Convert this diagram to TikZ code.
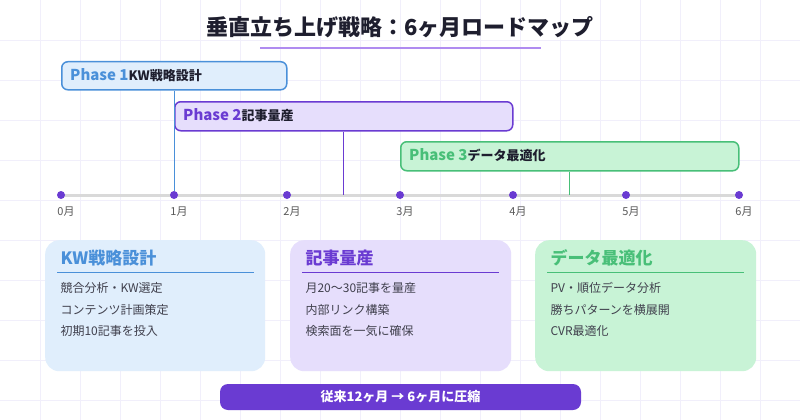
\documentclass[tikz,border=0pt]{standalone}
\usepackage{fontspec}
\setmainfont{Noto Sans CJK JP}
\newfontfamily\jpb[FakeBold=0]{Noto Sans CJK JP Bold}
\definecolor{cb}{HTML}{4A90D9}\definecolor{fb}{HTML}{E0EEFC}
\definecolor{cp}{HTML}{6A3BD2}\definecolor{fp}{HTML}{E6DEFC}
\definecolor{cg}{HTML}{48BF78}\definecolor{fg}{HTML}{C8F3D6}
\definecolor{tx}{HTML}{1E1E2E}\definecolor{gr}{HTML}{F1EFFB}
\begin{document}
\begin{tikzpicture}[x=1pt,y=-1pt,
 phase/.style={draw=#1,line width=1.5pt,rounded corners=6pt,anchor=north west,inner sep=0pt},
 card/.style={rounded corners=14pt,anchor=north west,inner sep=0pt},
 dot/.style={circle,fill=cp,inner sep=0pt,minimum size=8pt},
 mlab/.style={font=\fontsize{11}{13}\selectfont,text=black!65},
 item/.style={font=\fontsize{12}{14}\selectfont,text=tx!85,anchor=west},
 ctitle/.style={font=\fontsize{17}{20}\selectfont\bfseries,anchor=west}]
\fill[white] (0,0) rectangle (800,420);
\useasboundingbox (0,0) rectangle (800,420);
\foreach \i in {40,80,...,760} \draw[gr,line width=0.8pt] (\i,0) -- (\i,420);
\foreach \i in {40,80,...,400} \draw[gr,line width=0.8pt] (0,\i) -- (800,\i);
\node[font=\fontsize{22}{26}\selectfont\bfseries,text=tx] (title) at (400,27) {垂直立ち上げ戦略：6ヶ月ロードマップ};
\draw[color={rgb,255:red,176;green,140;blue,240},line width=2pt] (260,48) -- (541,48);
% timeline
\draw[color=black!15,line width=3pt] (61,195) -- (739,195);
\foreach \m in {0,...,6}{
 \node[dot] (d\m) at (61+113*\m,195) {};
 \node[mlab] (l\m) at (66+113*\m,212) {\m 月};}
\coordinate (c25) at (343,195);
\coordinate (c45) at (569,195);
% phases
\node[phase=cb,fill=fb,minimum width=225pt,minimum height=28pt] (p1) at (61,61) {};
\node[anchor=west,inner sep=0pt] at (70,75) {\fontsize{15}{18}\selectfont\bfseries\color{cb}Phase 1\color{tx}\fontsize{13}{16}\selectfont KW戦略設計};
\node[phase=cp,fill=fp,minimum width=338pt,minimum height=29pt] (p2) at (174,101) {};
\node[anchor=west,inner sep=0pt] at (183,115) {\fontsize{15}{18}\selectfont\bfseries\color{cp}Phase 2\color{tx}\fontsize{13}{16}\selectfont 記事量産};
\node[phase=cg,fill=fg,minimum width=338pt,minimum height=29pt] (p3) at (400,141) {};
\node[anchor=west,inner sep=0pt] at (409,155) {\fontsize{15}{18}\selectfont\bfseries\color{cg}Phase 3\color{tx}\fontsize{13}{16}\selectfont データ最適化};
\draw[cb,line width=1pt] (p1.south -| d1) -- (d1);
\draw[cp,line width=1pt] (p2.south -| c25) -- (c25);
\draw[cg,line width=1pt] (p3.south -| c45) -- (c45);
% cards
\node[card,fill=fb,minimum width=220pt,minimum height=131pt] (k1) at (45,240) {};
\node[ctitle,text=cb] at (57,258) {KW戦略設計};
\draw[cb,line width=1pt] (57,272) -- (254,272);
\node[item] at (57,288) {競合分析・KW選定};
\node[item] at (57,310) {コンテンツ計画策定};
\node[item] at (57,331) {初期10記事を投入};
\node[card,fill=fp,minimum width=221pt,minimum height=131pt] (k2) at (290,240) {};
\node[ctitle,text=cp] at (302,258) {記事量産};
\draw[cp,line width=1pt] (302,272) -- (499,272);
\node[item] at (302,288) {月20〜30記事を量産};
\node[item] at (302,310) {内部リンク構築};
\node[item] at (302,331) {検索面を一気に確保};
\node[card,fill=fg,minimum width=221pt,minimum height=131pt] (k3) at (535,240) {};
\node[ctitle,text=cg] at (547,258) {データ最適化};
\draw[cg,line width=1pt] (547,272) -- (744,272);
\node[item] at (547,288) {PV・順位データ分析};
\node[item] at (547,310) {勝ちパターンを横展開};
\node[item] at (547,331) {CVR最適化};
% bottom pill
\node[fill=cp,rounded corners=8pt,minimum width=361pt,minimum height=26pt,inner sep=0pt,text=white,font=\fontsize{13}{16}\selectfont\bfseries] (pill) at (400.5,397) {従来12ヶ月 → 6ヶ月に圧縮};
\end{tikzpicture}
\end{document}
